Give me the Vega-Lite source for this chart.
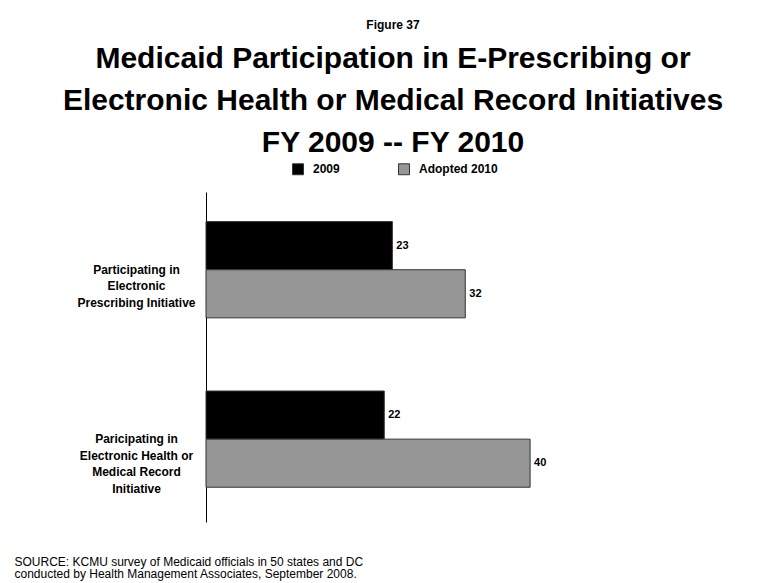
{
  "$schema": "https://vega.github.io/schema/vega-lite/v6.json",
  "width": 380,
  "height": 330,
  "autosize": {"type": "none"},
  "padding": {"left": 206, "top": 192, "right": 180, "bottom": 61},
  "background": "white",
  "config": {"view": {"stroke": null}},
  "title": {
    "text": "Figure 37",
    "subtitle": ["Medicaid Participation in E-Prescribing or", "Electronic Health or Medical Record Initiatives", "FY 2009 -- FY 2010"],
    "anchor": "middle",
    "frame": "group",
    "orient": "top",
    "dx": -3,
    "font": "Liberation Sans",
    "fontSize": 12,
    "fontWeight": "bold",
    "color": "black",
    "subtitleFont": "Liberation Sans",
    "subtitleFontSize": 30,
    "subtitleFontWeight": "bold",
    "subtitleColor": "black",
    "subtitleLineHeight": 42,
    "subtitlePadding": 12,
    "offset": 4
  },
  "data": {
    "values": [
      {"initiative": "Participating in Electronic Prescribing Initiative", "series": "2009", "value": 23},
      {"initiative": "Participating in Electronic Prescribing Initiative", "series": "Adopted 2010", "value": 32},
      {"initiative": "Paricipating in Electronic Health or Medical Record Initiative", "series": "2009", "value": 22},
      {"initiative": "Paricipating in Electronic Health or Medical Record Initiative", "series": "Adopted 2010", "value": 40}
    ]
  },
  "encoding": {
    "y": {
      "field": "initiative",
      "type": "nominal",
      "sort": null,
      "scale": {"paddingInner": 0.432, "paddingOuter": 0.19, "align": 0.46},
      "axis": {
        "title": null,
        "domain": true,
        "domainColor": "black",
        "domainWidth": 1,
        "ticks": false,
        "grid": false,
        "labelAlign": "center",
        "labelBaseline": "middle",
        "labelPadding": 70,
        "labelFont": "Liberation Sans",
        "labelFontSize": 12,
        "labelFontWeight": "bold",
        "labelColor": "black",
        "labelLineHeight": 16.5,
        "labelLimit": 300,
        "labelExpr": "datum.label == 'Participating in Electronic Prescribing Initiative' ? ['Participating in', 'Electronic', 'Prescribing Initiative'] : ['Paricipating in', 'Electronic Health or', 'Medical Record', 'Initiative']"
      }
    },
    "yOffset": {
      "field": "series",
      "type": "nominal",
      "sort": ["2009", "Adopted 2010"],
      "scale": {"paddingInner": 0, "paddingOuter": 0}
    },
    "x": {
      "field": "value",
      "type": "quantitative",
      "scale": {"domain": [0, 46.9], "nice": false},
      "axis": {
        "domain": false,
        "ticks": false,
        "labels": false,
        "grid": false,
        "title": ["SOURCE: KCMU survey of Medicaid officials in 50 states and DC", "conducted by Health Management Associates, September 2008."],
        "titleAnchor": "start",
        "titleAlign": "left",
        "titleBaseline": "alphabetic",
        "titleX": -192,
        "titleY": 43,
        "titleFont": "Liberation Sans",
        "titleFontSize": 12,
        "titleFontWeight": "normal",
        "titleColor": "black",
        "titleLineHeight": 12.5
      }
    }
  },
  "layer": [
    {
      "mark": {"type": "bar", "stroke": "#333333", "strokeWidth": 1},
      "encoding": {
        "color": {
          "field": "series",
          "type": "nominal",
          "scale": {"domain": ["2009", "Adopted 2010"], "range": ["#000000", "#969696"]},
          "legend": {
            "orient": "none",
            "legendX": 86,
            "legendY": -29,
            "direction": "horizontal",
            "title": null,
            "symbolType": "square",
            "symbolSize": 120,
            "symbolStrokeColor": "#333333",
            "symbolStrokeWidth": 1,
            "symbolOpacity": 1,
            "labelFont": "Liberation Sans",
            "labelFontSize": 12,
            "labelFontWeight": "bold",
            "labelColor": "black",
            "labelOffset": 9,
            "columnPadding": 56
          }
        }
      }
    },
    {
      "mark": {"type": "text", "align": "left", "baseline": "middle", "dx": 4, "font": "Liberation Sans", "fontSize": 11, "fontWeight": "bold", "color": "black"},
      "encoding": {"text": {"field": "value", "type": "quantitative"}}
    }
  ]
}
